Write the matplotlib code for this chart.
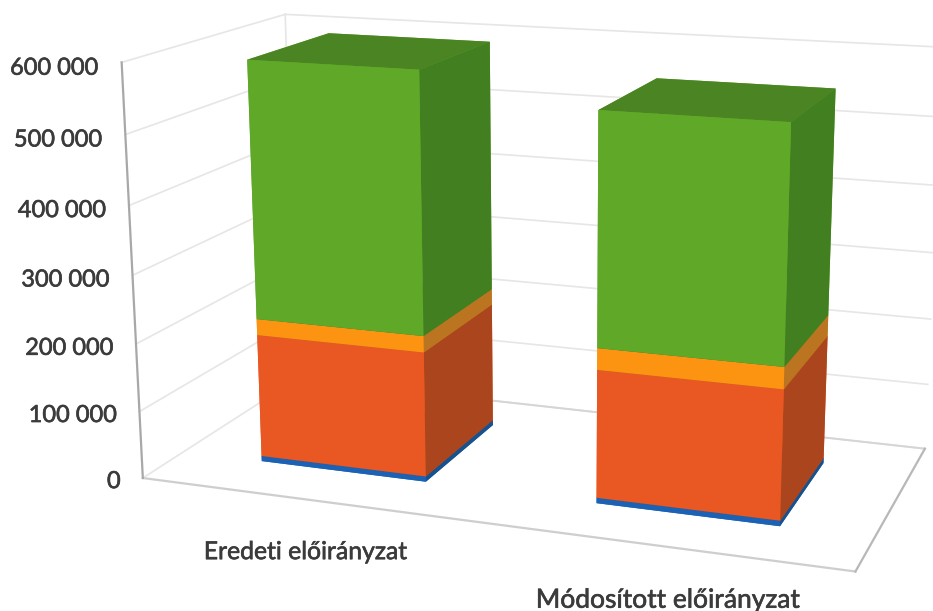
import numpy as np
import matplotlib
matplotlib.use('Agg')
import matplotlib.pyplot as plt
import matplotlib.patheffects as pe
from mpl_toolkits.mplot3d import proj3d

plt.rcParams['font.family'] = ['Lato', 'DejaVu Sans']

categories = ['Eredeti előirányzat', 'Módosított előirányzat']
blue = [8000, 8000]
red = [184000, 185000]
orange = [24000, 31000]
green = [376000, 328000]
tick_values = [0, 100000, 200000, 300000, 400000, 500000, 600000]
tick_labels = ['0', '100 000', '200 000', '300 000', '400 000', '500 000', '600 000']

# colours per segment: (front, right, top)
series = [
    (blue, '#1B62B5', '#17528F', '#1B62B5'),
    (red, '#E95723', '#AB451D', '#AB451D'),
    (orange, '#FC9412', '#BB7420', '#BB7420'),
    (green, '#60A828', '#417F20', '#4B8423'),
]

W, H = 933, 611
fig = plt.figure(figsize=(W / 100, H / 100), dpi=100, facecolor='white')
L = 882.4
ax = fig.add_axes([87.43 / W, (H - 716.96) / H, L / W, L / H], projection='3d',
                  computed_zorder=False)
ax.patch.set_alpha(0)
ax.view_init(elev=14.492, azim=-70.143, roll=0.124)
ax.set_proj_type('persp', focal_length=0.454)
ax.set_box_aspect((3.783, 1.829, 2.2), zoom=1)
zmax = tick_values[-1]
xmax = len(categories)
ax.set_xlim(0, xmax, view_margin=0)
ax.set_ylim(0, 1, view_margin=0)
ax.set_zlim(0, zmax, view_margin=0)
ax.set_xticks([])
ax.set_yticks([])
ax.set_zticks([])
ax.set_axis_off()

# walls
grid_c = '#E7E5E6'
for v in tick_values:
    ax.plot([0, 0], [0, 1], [v, v], color=grid_c, lw=1.2, zorder=1)
    ax.plot([0, xmax], [1, 1], [v, v], color=grid_c, lw=1.2, zorder=1)
ax.plot([0, 0], [1, 1], [0, zmax], color=grid_c, lw=1.2, zorder=1)
ax.plot([0, xmax], [1, 1], [0, 0], color='#D6D4D5', lw=1.4, zorder=1)
ax.plot([0, xmax], [0, 0], [0, 0], color='#CFCDCE', lw=1.6, zorder=1)
ax.plot([xmax, xmax], [0, 1], [0, 0], color='#B9B7B8', lw=1.6, zorder=1)
ax.plot([0, 0], [0, 0], [0, zmax], color='#A9A7A8', lw=1.6, zorder=2)

# stacked bars
bar_w, y0, depth = 0.504, 0.243, 0.532
pos = np.arange(len(categories)) + 0.5 - bar_w / 2
bottom = np.zeros(len(categories))
for k, (vals, front, right, top) in enumerate(series):
    vals = np.array(vals, float)
    faces = [top, top, front, front, front, right]
    ax.bar3d(pos, np.full(len(pos), y0), bottom, bar_w, depth, vals,
             color=faces * len(pos), shade=False, linewidth=0, zorder=5 + k)
    bottom += vals

# text: projected from the 3D scene, then set as ordinary 2D text
txt_c = '#3C3A3B'
stroke = [pe.withStroke(linewidth=0.45, foreground=txt_c)]
M = ax.get_proj()


def put(x, y, z, s, **kw):
    px, py, _ = proj3d.proj_transform(x, y, z, M)
    ax.text2D(px, py, s, transform=ax.transData, color=txt_c, path_effects=stroke,
              va='center', **kw)


for v, lab in zip(tick_values, tick_labels):
    put(-0.071, 0, v - 10000, lab, ha='right', fontsize=17)
label_sizes = [17.8, 19]
label_x = [0.557, 1.557]
label_z = [-49000, -46000]
for c, x, z, s in zip(categories, label_x, label_z, label_sizes):
    put(x, -0.13, z, c, ha='center', fontsize=s)

fig.savefig('out.png', dpi=100)
